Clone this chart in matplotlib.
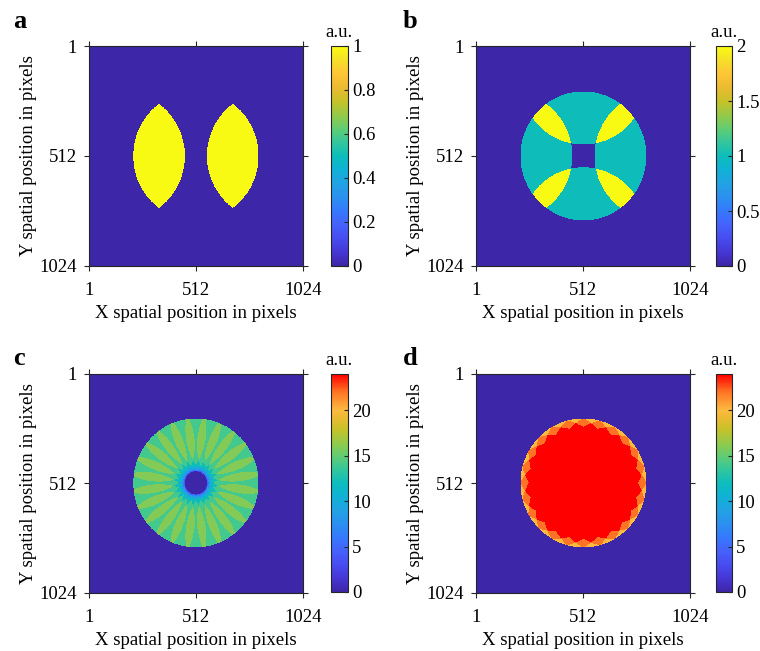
import numpy as np
import matplotlib
matplotlib.use("Agg")
import matplotlib.pyplot as plt
from matplotlib.colors import LinearSegmentedColormap

# ---------------- data / parameters ----------------
n_pix = 1024
pupil_center = 512.0
pupil_radius = 300.0
shift_ab = 353.0          # illumination shift for panels a, b, c
shift_d = 150.0           # illumination shift for panel d
n_dirs = 24               # number of illumination directions (c, d)

tick_vals = [1, 512, 1024]
tick_labels = ["1", "512", "1024"]
panel_letters = ["a", "b", "c", "d"]
climits = [(0, 1), (0, 2), (0, 24), (0, 24)]
cbar_ticks = [[0, 0.2, 0.4, 0.6, 0.8, 1],
              [0, 0.5, 1, 1.5, 2],
              [0, 5, 10, 15, 20],
              [0, 5, 10, 15, 20]]
cbar_ticklabels = [["0", "0.2", "0.4", "0.6", "0.8", "1"],
                   ["0", "0.5", "1", "1.5", "2"],
                   ["0", "5", "10", "15", "20"],
                   ["0", "5", "10", "15", "20"]]
xlabel = "X spatial position in pixels"
ylabel = "Y spatial position in pixels"
unit_label = "a.u."

# parula anchor colours
parula_pos = np.linspace(0, 1, 17)
parula_rgb = [(0.2422, 0.1504, 0.6603), (0.2704, 0.2138, 0.8346),
              (0.2813, 0.2985, 0.9397), (0.2710, 0.3860, 0.9898),
              (0.2066, 0.4743, 0.9926), (0.1716, 0.5655, 0.9393),
              (0.1321, 0.6363, 0.8932), (0.0628, 0.6972, 0.8355),
              (0.0504, 0.7423, 0.7359), (0.2003, 0.7787, 0.6146),
              (0.3795, 0.8026, 0.4454), (0.5886, 0.7913, 0.2833),
              (0.7829, 0.7579, 0.1608), (0.9184, 0.7308, 0.1890),
              (0.9966, 0.7740, 0.2138), (0.9634, 0.8778, 0.1582),
              (0.9769, 0.9839, 0.0805)]
parula = LinearSegmentedColormap.from_list("parula", list(zip(parula_pos, parula_rgb)), N=256)

hot_rgb = parula_rgb[:13] + [(0.93, 0.73, 0.20), (0.985, 0.733, 0.245),
                             (1.0, 0.45, 0.14), (1.0, 0.0, 0.0)]
hot_pos = list(parula_pos[:13]) + [0.80, 0.835, 0.92, 1.0]
parula_red = LinearSegmentedColormap.from_list("parula_red", list(zip(hot_pos, hot_rgb)), N=256)

# ---------------- images ----------------
yy, xx = np.mgrid[1:n_pix + 1, 1:n_pix + 1].astype(np.float32)


def disk(cx, cy):
    return ((xx - cx) ** 2 + (yy - cy) ** 2 < pupil_radius ** 2).astype(np.float32)


P = disk(pupil_center, pupil_center)
img_a = P * np.clip(disk(pupil_center - shift_ab, pupil_center) +
                    disk(pupil_center + shift_ab, pupil_center), 0, 1)
img_b = P * (disk(pupil_center - shift_ab, pupil_center) + disk(pupil_center + shift_ab, pupil_center) +
             disk(pupil_center, pupil_center - shift_ab) + disk(pupil_center, pupil_center + shift_ab))


def ring_sum(shift):
    acc = np.zeros_like(P)
    for k in range(n_dirs):
        th = 2 * np.pi * k / n_dirs
        dx, dy = shift * np.cos(th), shift * np.sin(th)
        acc += disk(pupil_center + dx, pupil_center + dy)
        acc += disk(pupil_center - dx, pupil_center - dy)
    return P * acc


img_c = ring_sum(shift_ab)
img_d = ring_sum(shift_d)
images = [img_a, img_b, img_c, img_d]
cmaps = [parula, parula, parula_red, parula_red]

# ---------------- figure ----------------
plt.rcParams["font.family"] = ["Liberation Serif", "DejaVu Serif"]
plt.rcParams["font.size"] = 13.5
W, H = 760, 651
fig = plt.figure(figsize=(W / 100, H / 100), dpi=100)

ax_boxes = [(89, 46, 214, 220), (476, 46, 214, 220),
            (89, 373.5, 214, 219.5), (476, 373.5, 214, 219.5)]
cb_boxes = [(331, 46, 17, 220), (716, 46, 16, 220),
            (331, 374, 17, 218), (716, 374, 16, 218)]
letter_pos = [(13, 28.5), (403, 28.5), (13, 365), (403, 365)]
edge = "#262626"

for i in range(4):
    x0, y0, w, h = ax_boxes[i]
    ax = fig.add_axes([x0 / W, (H - y0 - h) / H, w / W, h / H])
    im = ax.imshow(images[i], cmap=cmaps[i], vmin=climits[i][0], vmax=climits[i][1],
                   extent=(0.5, n_pix + 0.5, n_pix + 0.5, 0.5), aspect="auto",
                   interpolation="nearest")
    ax.set_xlim(0.5, n_pix + 0.5)
    ax.set_ylim(n_pix + 0.5, 0.5)
    ax.set_xticks(tick_vals)
    ax.set_xticklabels(tick_labels)
    ax.set_yticks(tick_vals)
    ax.set_yticklabels(tick_labels)
    ax.tick_params(direction="out", length=3.5, width=0.8, top=True, right=True,
                   colors=edge, labelcolor="black", pad=5)
    ax.tick_params(axis="x", pad=8)
    for s in ax.spines.values():
        s.set_color(edge)
        s.set_linewidth(0.8)
    ax.set_xlabel(xlabel, labelpad=4)
    ax.set_ylabel(ylabel, labelpad=2)

    cx0, cy0, cw, ch = cb_boxes[i]
    cax = fig.add_axes([cx0 / W, (H - cy0 - ch) / H, cw / W, ch / H])
    cb = fig.colorbar(im, cax=cax)
    cb.set_ticks(cbar_ticks[i])
    cb.set_ticklabels(cbar_ticklabels[i])
    cb.outline.set_edgecolor(edge)
    cb.outline.set_linewidth(0.8)
    cax.tick_params(direction="in", length=3, width=0.8, colors=edge,
                    labelcolor="black", pad=3)
    fig.text((cx0 + cw / 2) / W, (H - cy0 + 5) / H, unit_label, ha="center",
             va="bottom", fontsize=13.5)

    lx, ly = letter_pos[i]
    fig.text(lx / W, (H - ly) / H, panel_letters[i], ha="left", va="baseline",
             fontsize=19, fontweight="bold")

fig.savefig("out.png", dpi=100)
